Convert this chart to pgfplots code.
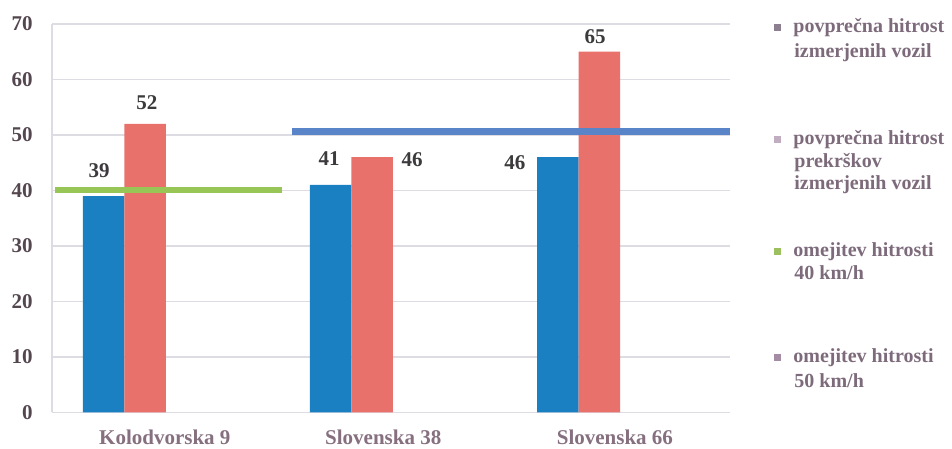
\documentclass[border=0pt]{standalone}
\usepackage{pgfplots}
\pgfplotsset{compat=1.18}
\usepackage{fontspec}
\setmainfont{Liberation Serif}
\definecolor{barblue}{HTML}{1B80C2}
\definecolor{barred}{HTML}{E8716B}
\definecolor{limgreen}{HTML}{98C656}
\definecolor{limblue}{HTML}{5A84C8}
\definecolor{gridc}{HTML}{DCDCE2}
\definecolor{ytxt}{HTML}{54464F}
\definecolor{xtxt}{HTML}{86707F}
\definecolor{legtxt}{HTML}{7D6B7B}
\definecolor{lbl}{HTML}{3C3A3C}
\definecolor{mk1}{HTML}{8C8090}
\definecolor{mk2}{HTML}{C0AEC0}
\definecolor{mk3}{HTML}{9CC060}
\definecolor{mk4}{HTML}{A48CA4}
\begin{document}
\begin{tikzpicture}[font=\fontsize{10.5}{12.5}\selectfont\bfseries]
\useasboundingbox (0,0) rectangle (476pt,224.5pt);
\begin{axis}[
  scale only axis,
  width=339pt, height=194.25pt,
  at={(26pt,18.25pt)}, anchor=south west,
  xmin=-0.319, xmax=2.667,
  ymin=0, ymax=70,
  ytick={0,10,...,70},
  xtick={0.178,1.14,2.16},
  xticklabels={Kolodvorska 9,Slovenska 38,Slovenska 66},
  xticklabel style={anchor=center, yshift=-12.25pt, text=xtxt},
  yticklabel style={anchor=east, inner sep=0pt, xshift=-9.5pt, text=ytxt},
  /pgf/number format/assume math mode=true,
  major tick length=0pt,
  ymajorgrids, grid style={gridc, line width=0.6pt},
  axis lines*=left,
  axis line style={gridc, line width=0.6pt},
  clip=false,
]
\addplot[ybar, bar width=20.75pt, bar shift=-10.375pt, fill=barblue, draw=none]
  coordinates {(0,39) (1,41) (2,46)};
\addplot[ybar, bar width=20.75pt, bar shift=10.375pt, fill=barred, draw=none]
  coordinates {(0,52) (1,46) (2,65)};
\addplot[limgreen, line width=3pt, no marks] coordinates {(-0.306,40) (0.694,40)};
\addplot[limblue, line width=3.5pt, no marks] coordinates {(0.738,50.7) (2.667,50.7)};
\node[text=lbl] at (axis cs:-0.112,43.5) {39};
\node[text=lbl] at (axis cs:0.099,55.8) {52};
\node[text=lbl] at (axis cs:0.901,45.7) {41};
\node[text=lbl] at (axis cs:1.267,45.5) {46};
\node[text=lbl] at (axis cs:1.720,45.1) {46};
\node[text=lbl] at (axis cs:2.073,67.7) {65};
\end{axis}
% legend
\begin{scope}[every node/.style={anchor=base west, inner sep=0pt, text=legtxt, font=\fontsize{10}{12}\selectfont\bfseries}]
\fill[mk1] (388.5pt,210.5pt) ++(-1.75pt,-1.75pt) rectangle ++(3.5pt,3.5pt);
\node at (396.5pt,208pt) {povprečna hitrost};
\node at (397pt,195.5pt) {izmerjenih vozil};
\fill[mk2] (388.5pt,154.5pt) ++(-1.75pt,-1.75pt) rectangle ++(3.5pt,3.5pt);
\node at (396.5pt,152pt) {povprečna hitrost};
\node at (397pt,140.5pt) {prekrškov};
\node at (397pt,129.5pt) {izmerjenih vozil};
\fill[mk3] (388.5pt,98.5pt) ++(-1.75pt,-1.75pt) rectangle ++(3.5pt,3.5pt);
\node at (396.5pt,96pt) {omejitev hitrosti};
\node at (397pt,84.5pt) {40 km/h};
\fill[mk4] (388.5pt,45.5pt) ++(-1.75pt,-1.75pt) rectangle ++(3.5pt,3.5pt);
\node at (396.5pt,43pt) {omejitev hitrosti};
\node at (397pt,30.5pt) {50 km/h};
\end{scope}
\end{tikzpicture}
\end{document}
